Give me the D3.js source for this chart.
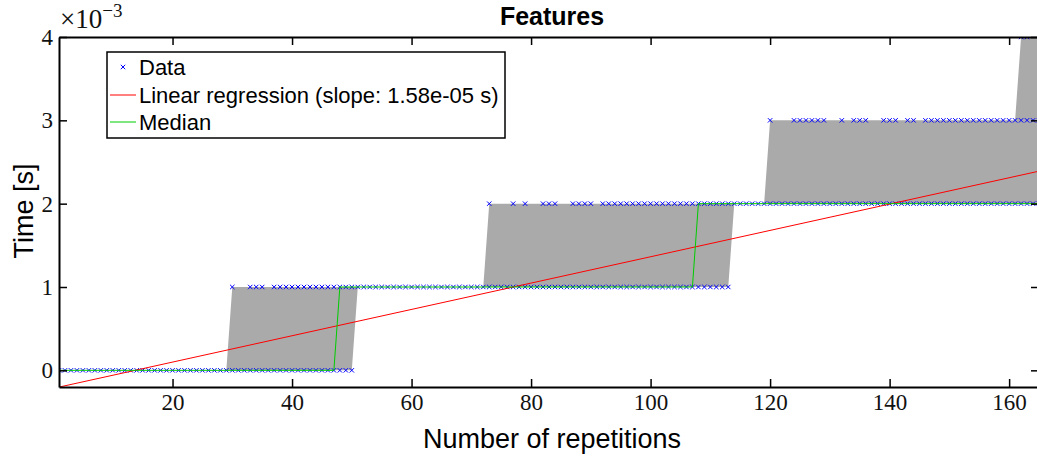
<!DOCTYPE html>
<html>
<head>
<meta charset="utf-8">
<script src="https://cdn.jsdelivr.net/npm/d3@7"></script>
<style>
  body { margin: 0; background: #fff; }
  svg { display: block; }
</style>
</head>
<body>
<div id="chart"></div>
<script>
// Samples (repetition numbers), grouped by measured time level (in ms)
const level0 = [1,2,3,4,5,6,7,8,9,10,11,12,13,14,15,16,17,18,19,20,21,22,23,24,25,
  26,27,28,29,30,31,32,33,34,35,36,37,38,39,40,41,42,43,44,45,46,47,48,49,50];
const level1 = [30,33,34,35,37,38,39,40,41,42,43,44,45,46,47,48,49,50,51,52,53,54,55,
  56,57,58,59,60,61,62,63,64,65,66,67,68,69,70,71,72,73,74,75,76,77,78,79,80,81,82,83,
  84,85,86,87,88,89,90,91,92,93,94,95,96,97,98,99,100,101,102,103,104,105,106,107,108,
  109,110,111,112,113];
const level2 = [73,77,79,82,83,84,87,88,89,90,92,93,94,95,96,97,98,99,100,101,102,103,
  104,105,106,107,108,109,110,111,112,113,114,115,116,117,118,119,120,121,122,123,124,
  125,126,127,128,129,130,131,132,133,134,135,136,137,138,139,140,141,142,143,144,145,
  146,147,148,149,150,151,152,153,154,155,156,157,158,159,160,161,162,163,164,165];
const level3 = [120,124,125,126,127,128,129,132,134,135,136,139,140,141,143,144,146,147,
  148,149,150,151,152,153,154,155,156,157,158,159,160,161,162,163,164,165];
const level4 = [162,163];

// Gray band (lower / upper envelope) and median, one value per repetition 1..165 (ms)
const bandLow = [
  0,0,0,0,0,0,0,0,0,0, 0,0,0,0,0,0,0,0,0,0, 0,0,0,0,0,0,0,0,0,0,
  0,0,0,0,0,0,0,0,0,0, 0,0,0,0,0,0,0,0,0,0, 1,1,1,1,1,1,1,1,1,1,
  1,1,1,1,1,1,1,1,1,1, 1,1,1,1,1,1,1,1,1,1, 1,1,1,1,1,1,1,1,1,1,
  1,1,1,1,1,1,1,1,1,1, 1,1,1,1,1,1,1,1,1,1, 1,1,1,2,2,2,2,2,2,2,
  2,2,2,2,2,2,2,2,2,2, 2,2,2,2,2,2,2,2,2,2, 2,2,2,2,2,2,2,2,2,2,
  2,2,2,2,2,2,2,2,2,2, 2,2,2,2,2];
const bandHigh = [
  0,0,0,0,0,0,0,0,0,0, 0,0,0,0,0,0,0,0,0,0, 0,0,0,0,0,0,0,0,0,1,
  1,1,1,1,1,1,1,1,1,1, 1,1,1,1,1,1,1,1,1,1, 1,1,1,1,1,1,1,1,1,1,
  1,1,1,1,1,1,1,1,1,1, 1,1,2,2,2,2,2,2,2,2, 2,2,2,2,2,2,2,2,2,2,
  2,2,2,2,2,2,2,2,2,2, 2,2,2,2,2,2,2,2,2,2, 2,2,2,2,2,2,2,2,2,3,
  3,3,3,3,3,3,3,3,3,3, 3,3,3,3,3,3,3,3,3,3, 3,3,3,3,3,3,3,3,3,3,
  3,3,3,3,3,3,3,3,3,3, 3,4,4,4,4];
const median = [
  0,0,0,0,0,0,0,0,0,0, 0,0,0,0,0,0,0,0,0,0, 0,0,0,0,0,0,0,0,0,0,
  0,0,0,0,0,0,0,0,0,0, 0,0,0,0,0,0,0,1,1,1, 1,1,1,1,1,1,1,1,1,1,
  1,1,1,1,1,1,1,1,1,1, 1,1,1,1,1,1,1,1,1,1, 1,1,1,1,1,1,1,1,1,1,
  1,1,1,1,1,1,1,1,1,1, 1,1,1,1,1,1,1,2,2,2, 2,2,2,2,2,2,2,2,2,2,
  2,2,2,2,2,2,2,2,2,2, 2,2,2,2,2,2,2,2,2,2, 2,2,2,2,2,2,2,2,2,2,
  2,2,2,2,2,2,2,2,2,2, 2,2,2,2,2];

// Linear regression (time in seconds)
const slope = 1.58e-5;
const intercept = -2.17e-4;

const xTicks = [20, 40, 60, 80, 100, 120, 140, 160];
const yTicks = [0, 1, 2, 3, 4];

// build point list
const points = [];
[level0, level1, level2, level3, level4].forEach((list, lvl) => {
  list.forEach(r => points.push({ rep: r, t: lvl }));
});
const reps = bandLow.map((d, i) => i + 1);

const W = 1037, H = 460;
const margin = { top: 37, left: 59 };
const width = 980, height = 350;

const svg = d3.select("#chart").append("svg")
  .attr("width", W).attr("height", H);

const g = svg.append("g")
  .attr("transform", `translate(${margin.left},${margin.top})`);

const x = d3.scaleLinear().domain([1, 165]).range([0, width]);
const y = d3.scaleLinear().domain([-0.2, 4]).range([height, 0]); // in ms

svg.append("defs").append("clipPath").attr("id", "clip")
  .append("rect").attr("width", width).attr("height", height);

const plot = g.append("g").attr("clip-path", "url(#clip)");

// gray band
const area = d3.area()
  .x((d, i) => x(reps[i]))
  .y0((d, i) => y(bandLow[i]))
  .y1((d, i) => y(bandHigh[i]));
plot.append("path")
  .datum(bandLow)
  .attr("d", area)
  .attr("fill", "#aaaaaa");

// data markers
const mk = 2.2;
plot.append("g").selectAll("path")
  .data(points)
  .enter().append("path")
  .attr("d", d => {
    const cx = x(d.rep), cy = y(d.t);
    return `M${cx - mk},${cy - mk}L${cx + mk},${cy + mk}M${cx - mk},${cy + mk}L${cx + mk},${cy - mk}`;
  })
  .attr("stroke", "#0000ff")
  .attr("stroke-width", 1)
  .attr("fill", "none");

// regression line
plot.append("line")
  .attr("x1", x(1)).attr("y1", y((slope * 1 + intercept) * 1000))
  .attr("x2", x(165)).attr("y2", y((slope * 165 + intercept) * 1000))
  .attr("stroke", "#ff0000")
  .attr("stroke-width", 1);

// median
plot.append("path")
  .datum(median)
  .attr("d", d3.line().x((d, i) => x(reps[i])).y(d => y(d)))
  .attr("fill", "none")
  .attr("stroke", "#00cc00")
  .attr("stroke-width", 1);

// axes
const tickFont = "'Liberation Serif', serif";

const axLeft = g.append("g")
  .call(d3.axisLeft(y).tickValues(yTicks).tickFormat(d => d)
    .tickSizeInner(-8).tickSizeOuter(0).tickPadding(6));
const axRight = g.append("g").attr("transform", `translate(${width},0)`)
  .call(d3.axisRight(y).tickValues(yTicks).tickFormat("")
    .tickSizeInner(-8).tickSizeOuter(0));
const axBottom = g.append("g").attr("transform", `translate(0,${height})`)
  .call(d3.axisBottom(x).tickValues(xTicks).tickFormat(d => d)
    .tickSizeInner(-8).tickSizeOuter(0).tickPadding(7));
const axTop = g.append("g")
  .call(d3.axisTop(x).tickValues(xTicks).tickFormat("")
    .tickSizeInner(-8).tickSizeOuter(0));

[axLeft, axRight, axBottom, axTop].forEach(a => {
  a.select(".domain").attr("stroke", "#000").attr("stroke-width", 2);
  a.selectAll(".tick line").attr("stroke", "#000").attr("stroke-width", 1.5);
  a.selectAll(".tick text")
    .attr("fill", "#111")
    .style("font-family", tickFont)
    .style("font-size", "23px");
});

// exponent label
const expo = svg.append("text")
  .attr("x", 60).attr("y", 28)
  .style("font-family", tickFont)
  .style("font-size", "27px")
  .attr("fill", "#111");
expo.append("tspan").text("×10");
expo.append("tspan").attr("dy", -11).style("font-size", "19px").text("−3");

// title and axis labels
const sans = "'Liberation Sans', Arial, sans-serif";
svg.append("text")
  .attr("x", 552).attr("y", 25)
  .attr("text-anchor", "middle")
  .style("font-family", sans)
  .style("font-size", "25px")
  .style("font-weight", "bold")
  .text("Features");

svg.append("text")
  .attr("x", 552).attr("y", 448)
  .attr("text-anchor", "middle")
  .style("font-family", sans)
  .style("font-size", "27px")
  .text("Number of repetitions");

svg.append("text")
  .attr("transform", "translate(33,211) rotate(-90)")
  .attr("text-anchor", "middle")
  .style("font-family", sans)
  .style("font-size", "27px")
  .text("Time [s]");

// legend
const legend = svg.append("g");
legend.append("rect")
  .attr("x", 107).attr("y", 52)
  .attr("width", 398).attr("height", 86)
  .attr("fill", "#fff")
  .attr("stroke", "#000")
  .attr("stroke-width", 1.5);

const legendItems = [
  { label: "Data", type: "marker", color: "#0000ff", y: 67 },
  { label: "Linear regression (slope: 1.58e-05 s)", type: "line", color: "#ff0000", y: 95 },
  { label: "Median", type: "line", color: "#00cc00", y: 122 }
];
legendItems.forEach(it => {
  if (it.type === "marker") {
    const cx = 123, cy = it.y;
    legend.append("path")
      .attr("d", `M${cx - mk},${cy - mk}L${cx + mk},${cy + mk}M${cx - mk},${cy + mk}L${cx + mk},${cy - mk}`)
      .attr("stroke", it.color).attr("stroke-width", 1);
  } else {
    legend.append("line")
      .attr("x1", 110).attr("x2", 136)
      .attr("y1", it.y).attr("y2", it.y)
      .attr("stroke", it.color).attr("stroke-width", 1);
  }
  legend.append("text")
    .attr("x", 139).attr("y", it.y + 8)
    .style("font-family", sans)
    .style("font-size", "22px")
    .attr("fill", "#000")
    .text(it.label);
});
</script>
</body>
</html>
